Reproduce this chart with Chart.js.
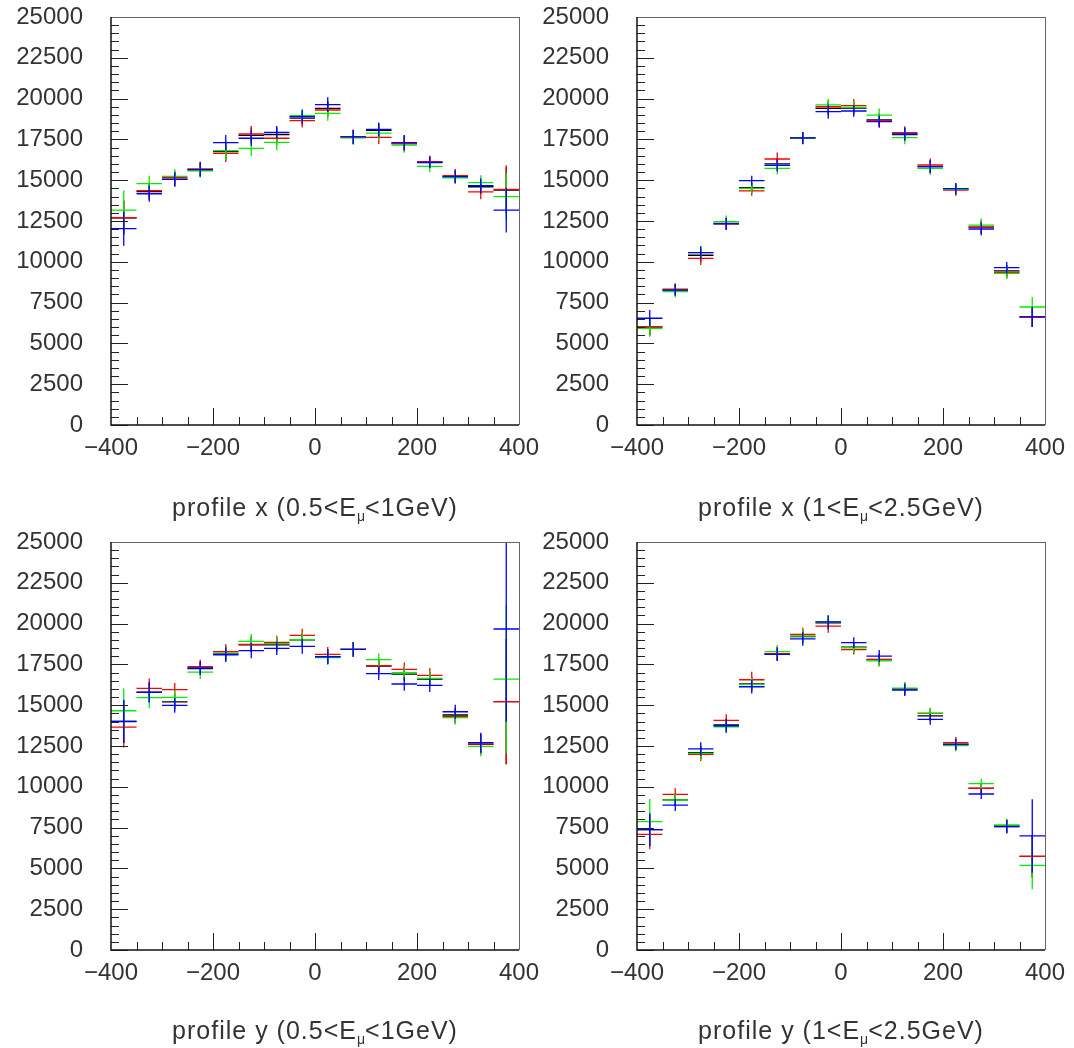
<!DOCTYPE html>
<html>
<head>
<meta charset="utf-8">
<script src="https://cdn.jsdelivr.net/npm/chart.js@4"></script>
<style>
body{margin:0;background:#fff;width:1074px;height:1048px;position:relative;overflow:hidden;font-family:"Liberation Sans",sans-serif}
canvas{position:absolute}
.titulo{position:absolute;width:408px;height:30px;line-height:30px;text-align:center;font-size:25px;color:#333;letter-spacing:1px;white-space:nowrap}
.titulo sub{font-size:14px;vertical-align:-5px;letter-spacing:0}
</style>
</head>
<body>
<canvas id="gA" width="560" height="500" style="left:0;top:0"></canvas>
<canvas id="gB" width="548" height="500" style="left:526px;top:0"></canvas>
<canvas id="gC" width="560" height="500" style="left:0;top:525px"></canvas>
<canvas id="gD" width="548" height="500" style="left:526px;top:525px"></canvas>
<div class="titulo" style="left:111px;top:492px">profile x (0.5&lt;E<sub>μ</sub>&lt;1GeV)</div>
<div class="titulo" style="left:637px;top:492px">profile x (1&lt;E<sub>μ</sub>&lt;2.5GeV)</div>
<div class="titulo" style="left:111px;top:1015px">profile y (0.5&lt;E<sub>μ</sub>&lt;1GeV)</div>
<div class="titulo" style="left:637px;top:1015px">profile y (1&lt;E<sub>μ</sub>&lt;2.5GeV)</div>
<script>
// Bins y ejes
const binCenters = [-375,-325,-275,-225,-175,-125,-75,-25,25,75,125,175,225,275,325,375];
const anchoBin   = 50;
const xTicks     = [-400,-200,0,200,400];
const yTicks     = [0,2500,5000,7500,10000,12500,15000,17500,20000,22500,25000];

// Panel A: profile x (0.5<E<1GeV)
const aNegro  = [12700,14300,15050,15650,16750,17750,17800,18800,19400,17650,18050,17250,16080,15200,14600,14400];
const aRojo   = [12700,14360,15150,15700,16640,17830,17570,18650,19300,17670,17630,17250,16130,15280,14280,14440];
const aVerde  = [13170,14790,15240,15580,16810,16950,17320,18950,19100,17590,17890,17150,15850,15150,14850,13990];
const aAzul   = [12030,14170,15050,15650,17300,17570,17930,18890,19630,17650,18110,17300,16090,15220,14660,13170];
const aNegroE = [1050,500,430,430,520,480,430,420,450,430,430,470,370,400,450,1400];
const aRojoE  = [1000,500,430,430,520,490,430,420,450,430,410,470,370,400,450,1470];
const aVerdeE = [1200,490,430,430,570,470,470,420,450,430,430,470,370,390,450,1430];
const aAzulE  = [1040,490,430,430,470,480,390,410,450,430,430,470,350,390,450,1370];

// Panel B: profile x (1<E<2.5GeV)
const bNegro  = [6000,8280,10400,12350,14550,16000,17580,19400,19420,18700,17800,15830,14440,12130,9450,6620];
const bRojo   = [6030,8330,10210,12320,14340,16300,17590,19500,19570,18650,17910,15930,14400,12130,9350,6620];
const bVerde  = [5920,8170,10560,12460,14500,15730,17590,19610,19460,18990,17610,15730,14440,12250,9290,7230];
const bAzul   = [6540,8270,10560,12320,14970,15910,17590,19200,19240,18590,17830,15830,14480,12010,9640,6620];
const bNegroE = [520,350,400,370,300,380,370,400,380,390,400,400,350,400,350,610];
const bRojoE  = [510,350,400,370,300,390,370,400,410,380,400,400,350,400,350,610];
const bVerdeE = [510,350,400,370,300,380,370,370,380,410,400,400,350,400,350,610];
const bAzulE  = [510,350,400,370,300,380,370,430,350,370,400,400,350,400,350,610];

// Panel C: profile y (0.5<E<1GeV)
const cNegro  = [14000,15800,15200,17250,18170,18700,18700,19000,17980,18420,17400,16900,16600,14400,12600,15220];
const cRojo   = [13660,16030,15950,17360,18280,18730,18850,19280,18120,18420,17420,17200,16830,14300,12620,15220];
const cVerde  = [14660,15460,15480,17030,18140,18910,18770,19010,17910,18420,17790,16990,16640,14240,12480,16600];
const cAzul   = [14010,15790,14990,17280,18090,18340,18480,18610,17970,18420,16930,16300,16220,14600,12700,19670];
const cNegroE = [1300,620,450,420,450,460,410,430,450,450,400,410,440,430,610,3840];
const cRojoE  = [1250,610,410,420,450,460,410,410,450,450,400,410,450,430,610,3840];
const cVerdeE = [1370,650,450,430,450,450,410,430,450,450,390,410,440,420,610,4550];
const cAzulE  = [1330,620,450,420,450,470,410,450,450,450,390,410,410,430,610,5680];

// Panel D: profile y (1<E<2.5GeV)
const dNegro  = [7370,9200,12100,13800,16300,18150,19200,20050,18550,17800,16000,14350,12600,9900,7600,5740];
const dRojo   = [7090,9540,11990,14070,16560,18150,19340,19850,18400,17790,16000,14500,12700,9910,7560,5740];
const dVerde  = [7860,9190,12050,13680,16280,18280,19240,20100,18520,17710,16050,14520,12520,10190,7660,5190];
const dAzul   = [7370,8880,12320,13740,16130,18120,19060,20100,18830,18010,15930,14130,12600,9560,7560,6990];
const dNegroE = [1000,370,410,380,430,410,410,410,320,360,370,330,350,310,400,1300];
const dRojoE  = [920,370,410,370,490,410,410,410,290,360,370,330,350,310,400,1300];
const dVerdeE = [1390,370,410,380,410,410,410,410,320,350,370,330,350,310,400,1470];
const dAzulE  = [1000,370,410,410,410,410,410,410,330,370,370,330,350,310,400,2250];

const FUENTE = "Liberation Sans";

// Cada punto: barra horizontal del ancho del bin + barra vertical de error, con huecos entre ellos
function cruces(valores, errores){
    const pts = [];
    binCenters.forEach((c, i) => {
        pts.push({x: c - anchoBin/2, y: valores[i]}, {x: c + anchoBin/2, y: valores[i]}, {x: c, y: null});
        pts.push({x: c, y: valores[i] - errores[i]}, {x: c, y: valores[i] + errores[i]}, {x: c, y: null});
    });
    return pts;
}

function serie(valores, errores, color){
    return {
        data: cruces(valores, errores),
        borderColor: color,
        borderWidth: 1.3,
        showLine: true,
        spanGaps: false,
        pointRadius: 0,
        pointHoverRadius: 0
    };
}

// Marcas hacia dentro y marco del histograma
const ejesPlugin = {
    id: 'ejes',
    afterDraw(chart){
        const {ctx, chartArea: a, scales: {x, y}} = chart;
        ctx.save();
        ctx.strokeStyle = '#222';
        ctx.lineWidth = 1;
        ctx.beginPath();
        for(let v = -350; v < 400; v += 50){
            const px = Math.round(x.getPixelForValue(v)) + 0.5;
            const largo = (v % 200 === 0) ? 17 : 8;
            ctx.moveTo(px, a.bottom); ctx.lineTo(px, a.bottom - largo);
        }
        for(let v = 0; v <= 25000; v += 500){
            const py = Math.round(y.getPixelForValue(v)) + 0.5;
            const largo = (v % 2500 === 0) ? 17 : 8;
            ctx.moveTo(a.left, py); ctx.lineTo(a.left + largo, py);
        }
        ctx.stroke();
        ctx.strokeStyle = '#666';
        ctx.beginPath();
        ctx.moveTo(a.left, Math.round(a.top) + 0.5); ctx.lineTo(a.right, Math.round(a.top) + 0.5);
        ctx.moveTo(Math.round(a.right) + 0.5, a.top); ctx.lineTo(Math.round(a.right) + 0.5, a.bottom);
        ctx.stroke();
        ctx.strokeStyle = '#111';
        ctx.lineWidth = 1.5;
        ctx.beginPath();
        ctx.moveTo(a.left, a.top); ctx.lineTo(a.left, a.bottom); ctx.lineTo(a.right, a.bottom);
        ctx.stroke();
        ctx.restore();
    }
};

function crearGrafico(id, padDer, series){
    return new Chart(document.getElementById(id), {
        type: 'scatter',
        data: {
            // el primero se dibuja encima: azul arriba, negro debajo
            datasets: [
                serie(series[3], series[7], '#0000ff'),
                serie(series[2], series[6], '#00ee00'),
                serie(series[1], series[5], '#ff0000'),
                serie(series[0], series[4], '#000000')
            ]
        },
        options: {
            responsive: false,
            animation: false,
            devicePixelRatio: 1,
            layout: { padding: { top: 17, right: padDer, left: 0, bottom: 0 } },
            plugins: { legend: { display: false }, tooltip: { enabled: false } },
            scales: {
                x: {
                    type: 'linear', min: -400, max: 400,
                    afterBuildTicks: s => { s.ticks = xTicks.map(v => ({value: v})); },
                    afterFit: s => { s.height = 75; s.paddingLeft = 0; s.paddingRight = 0; },
                    ticks: {
                        font: { family: FUENTE, size: 24 }, color: '#333', padding: 9, maxRotation: 0,
                        callback: v => String(v).replace('-', '\u2212')
                    },
                    grid: { display: false, drawTicks: false },
                    border: { display: false }
                },
                y: {
                    min: 0, max: 25000,
                    afterBuildTicks: s => { s.ticks = yTicks.map(v => ({value: v})); },
                    afterFit: s => { s.width = 111; s.paddingTop = 0; s.paddingBottom = 0; },
                    ticks: { font: { family: FUENTE, size: 24 }, color: '#333', padding: 28, callback: v => String(v) },
                    grid: { display: false, drawTicks: false },
                    border: { display: false }
                }
            }
        },
        plugins: [ejesPlugin]
    });
}

crearGrafico('gA', 41, [aNegro, aRojo, aVerde, aAzul, aNegroE, aRojoE, aVerdeE, aAzulE]);
crearGrafico('gB', 29, [bNegro, bRojo, bVerde, bAzul, bNegroE, bRojoE, bVerdeE, bAzulE]);
crearGrafico('gC', 41, [cNegro, cRojo, cVerde, cAzul, cNegroE, cRojoE, cVerdeE, cAzulE]);
crearGrafico('gD', 29, [dNegro, dRojo, dVerde, dAzul, dNegroE, dRojoE, dVerdeE, dAzulE]);
</script>
</body>
</html>
